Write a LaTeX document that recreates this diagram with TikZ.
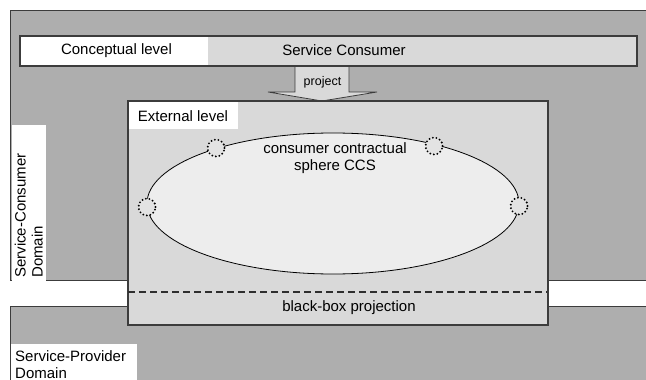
\documentclass[tikz,border=0pt]{standalone}
\usepackage{fontspec}
\setmainfont{Liberation Sans}
\usetikzlibrary{shapes.geometric}
\definecolor{panelgray}{HTML}{AEAEAE}
\definecolor{boxgray}{HTML}{D9D9D9}
\definecolor{spheregray}{HTML}{EDEDED}
\definecolor{edgegray}{HTML}{3C3C3C}
\definecolor{dashgray}{HTML}{2E2E2E}
\begin{document}
\begin{tikzpicture}[x=1pt,y=-1pt,
  every node/.style={font=\fontsize{15}{17}\selectfont, text=black},
  domainbox/.style={draw=edgegray, line width=1.1pt, fill=panelgray, inner sep=0},
  levelbox/.style={draw=edgegray, line width=1.4pt, fill=boxgray, inner sep=0},
  tag/.style={fill=white, inner sep=0},
  projarrow/.style={draw=edgegray, line width=0.8pt, fill=boxgray, line join=miter},
  sphere/.style={ellipse, draw=black, line width=0.8pt, fill=spheregray, inner sep=0},
  port/.style={circle, draw=black, line width=2.1pt, dash pattern=on 0pt off 3.6pt,
               line cap=round, fill=spheregray!50!boxgray, minimum size=17, inner sep=0},
  cutline/.style={draw=dashgray, line width=1.8pt, dash pattern=on 7pt off 4pt}
]
\useasboundingbox (0,0) rectangle (646,380);

% domains
\node[domainbox, anchor=north west, minimum width=660, minimum height=270] (consumerdom) at (10,10) {};
\node[domainbox, anchor=north west, minimum width=660, minimum height=90] (providerdom) at (10,306) {};

% projection arrow from the conceptual bar down to the external level
\coordinate (shaftL) at (295,65);
\coordinate (shaftR) at (349,65);
\fill[boxgray] (shaftL) -- (295,92) -- (268,92) -- (322,101) -- (377,92) -- (349,92) -- (shaftR) -- cycle;
\draw[projarrow] (shaftL) -- (295,92) -- (268,92) -- (322,101) -- (377,92) -- (349,92) -- (shaftR);
\node (project) at (322.5,82) {\fontsize{12.5}{14}\selectfont project};

% conceptual level bar
\node[levelbox, anchor=north west, minimum width=616, minimum height=29] (cbar) at (20,36) {};
\node[tag, anchor=north west, minimum width=188, minimum height=29] (clabel) at (20,36) {};
\draw[edgegray, line width=1.4pt] (cbar.north west) rectangle (cbar.south east);
\node (conceptual) at (116.5,50.5) {Conceptual level};
\node (consumer) at (344,50.5) {Service Consumer};

% domain tags
\node[tag, rotate=90, anchor=south west, minimum width=156, minimum height=34,
      text width=150, align=left, inner xsep=3pt] (consumertag) at (46,281)
      {\fontsize{15}{17}\selectfont Service-Consumer\\Domain};
\node[tag, anchor=north west, minimum width=126, minimum height=40,
      text width=118, align=left, inner xsep=4pt, inner ysep=2pt] (providertag) at (11,344)
      {\fontsize{15}{16}\selectfont Service-Provider\\Domain};

% external level
\node[levelbox, anchor=north west, minimum width=419, minimum height=223] (ext) at (128,101) {};
\node[tag, anchor=north west, minimum width=110, minimum height=28] (extlabel) at (128,101) {};
\draw[edgegray, line width=1.4pt] (ext.north west) rectangle (ext.south east);
\node (exttext) at (183,116) {External level};

% consumer contractual sphere
\node[sphere, minimum width=372, minimum height=141] (ccs) at (333,203.5) {};
\node[align=center] (ccstext) at (335,158) {\fontsize{15}{20}\selectfont consumer contractual\\sphere CCS};
\node[port] (p1) at (147,207) {};
\node[port] (p2) at (216,148) {};
\node[port] (p3) at (434,146) {};
\node[port] (p4) at (519,206) {};

% black-box projection boundary
\coordinate (cutL) at (128,292);
\coordinate (cutR) at (547,292);
\draw[cutline] (cutL) -- (cutR);
\node (blackbox) at (349,308) {black-box projection};
\end{tikzpicture}
\end{document}
